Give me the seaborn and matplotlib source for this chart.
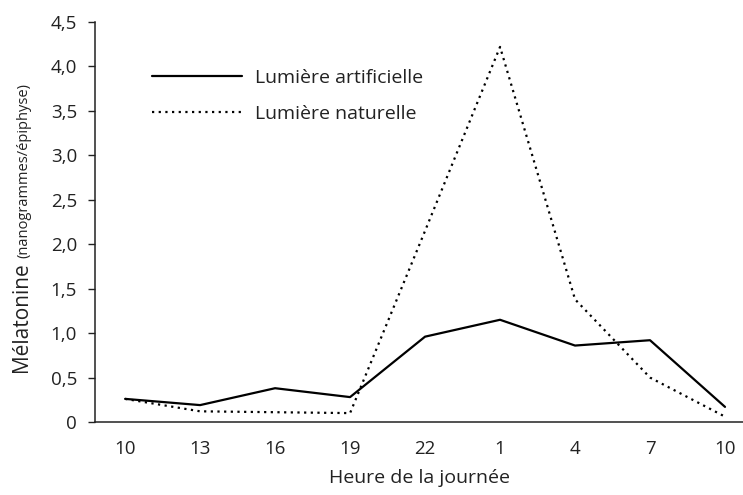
import matplotlib
matplotlib.use("Agg")
import matplotlib.pyplot as plt
import matplotlib.ticker as mticker
import pandas as pd
import seaborn as sns

# values
hours = ["10", "13", "16", "19", "22", "1", "4", "7", "10"]
artificielle = [0.26, 0.19, 0.38, 0.28, 0.96, 1.15, 0.86, 0.92, 0.17]
naturelle = [0.26, 0.12, 0.11, 0.10, 2.15, 4.22, 1.38, 0.50, 0.06]
series_names = ["Lumière artificielle", "Lumière naturelle"]

sns.set_theme(style="white")
plt.rcParams["font.family"] = ["Open Sans", "DejaVu Sans"]
INK = "#222222"

df = pd.DataFrame({
    "pos": list(range(len(hours))) * 2,
    "value": artificielle + naturelle,
    "serie": [series_names[0]] * len(hours) + [series_names[1]] * len(hours),
})

fig = plt.figure(figsize=(7.43, 4.95), dpi=100)
ax = fig.add_axes([0.128, 0.1475, 0.872, 0.808])

sns.lineplot(
    data=df, x="pos", y="value", style="serie", color="black",
    dashes={series_names[0]: "", series_names[1]: (1, 2)},
    linewidth=1.6, ax=ax, legend=True,
)

ax.set_xlim(-0.4, 8.24)
ax.set_ylim(0, 4.5)
ax.set_xticks(range(len(hours)))
ax.set_xticklabels(hours)
ax.yaxis.set_major_locator(mticker.MultipleLocator(0.5))
ax.yaxis.set_major_formatter(mticker.FuncFormatter(
    lambda v, p: "0" if v == 0 else f"{v:.1f}".replace(".", ",")))
ax.tick_params(axis="x", length=0, pad=13, labelsize=13.5, colors=INK)
ax.tick_params(axis="y", left=True, length=5, width=1, pad=8, labelsize=13.5,
               colors=INK)

for s in ["top", "right"]:
    ax.spines[s].set_visible(False)
for s in ["left", "bottom"]:
    ax.spines[s].set_color(INK)
    ax.spines[s].set_linewidth(1.1)

ax.set_xlabel("Heure de la journée", fontsize=14, labelpad=8, color=INK)
ax.set_ylabel("")

# y label: big word + smaller unit on the same baseline
t1 = fig.text(27 / 743, 1 - 372 / 495, "Mélatonine", rotation=90,
              rotation_mode="anchor", ha="left", va="baseline",
              fontsize=15, color=INK)
fig.canvas.draw()
bb = t1.get_window_extent(fig.canvas.get_renderer())
fig.text(27 / 743, (bb.y1 + 4) / fig.bbox.height, "(nanogrammes/épiphyse)",
         rotation=90, rotation_mode="anchor", ha="left", va="baseline",
         fontsize=10.5, color=INK)

ax.legend(
    loc="upper left", bbox_to_anchor=(0.205, 0.86), bbox_transform=fig.transFigure,
    frameon=False, fontsize=14, handlelength=4.6, handletextpad=0.7,
    labelspacing=0.9, borderaxespad=0, borderpad=0,
)
for t in ax.get_legend().get_texts():
    t.set_color(INK)

plt.savefig("out.png", dpi=100)
